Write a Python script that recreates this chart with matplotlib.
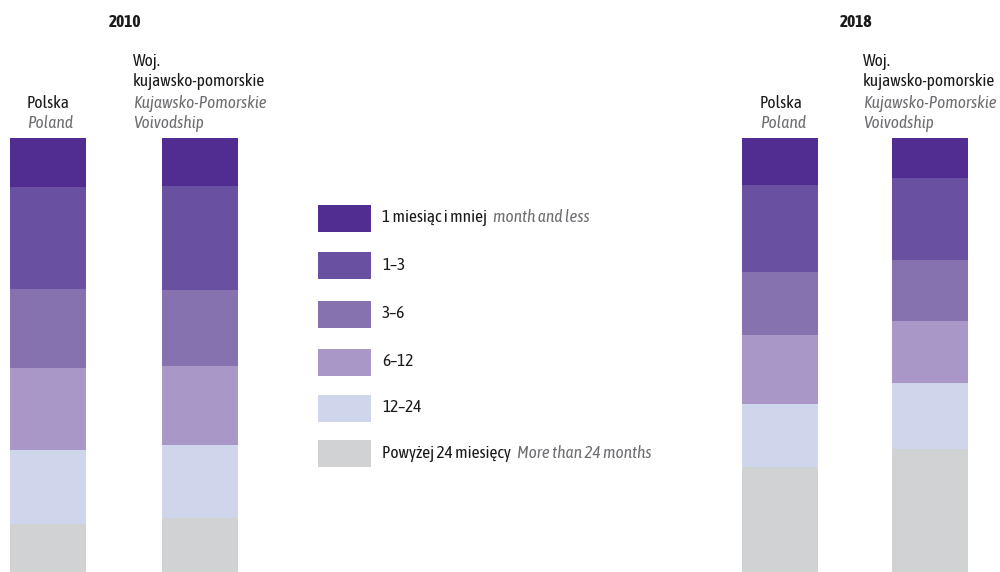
import matplotlib
matplotlib.use("Agg")
import matplotlib.pyplot as plt
from matplotlib.patches import Rectangle

plt.rcParams['font.family'] = ['Asap Condensed', 'DejaVu Sans']

categories_pl = ["1 miesiąc i mniej", "1–3", "3–6", "6–12", "12–24", "Powyżej 24 miesięcy"]
categories_en = ["month and less", "", "", "", "", "More than 24 months"]
colors = ["#512D91", "#6A50A0", "#8772B0", "#A897C7", "#CFD5EA", "#D1D2D4"]

polska_2010 = [11.3, 23.5, 18.2, 18.9, 17.1, 11.0]
kujpom_2010 = [11.1, 24.0, 17.5, 18.2, 16.8, 12.4]
polska_2018 = [10.8, 20.0, 14.7, 15.7, 14.5, 24.3]
kujpom_2018 = [9.2, 18.9, 14.1, 14.3, 15.2, 28.3]

series = [polska_2010, kujpom_2010, polska_2018, kujpom_2018]
bar_x = [48, 200, 780, 930]

W, H = 1000, 572
fig = plt.figure(figsize=(10, 5.72), dpi=100)
ax = fig.add_axes([0, 0, 1, 434 / H])
ax.set_xlim(0, W)
ax.set_ylim(0, 100)
ax.axis('off')

# stack from top: first category on top
for x, vals in zip(bar_x, series):
    top = 100.0
    for v, c in zip(vals, colors):
        ax.bar(x, -v, bottom=top, width=76, color=c, linewidth=0)
        top -= v

def fy(py):
    return 1 - py / H

def fx(px):
    return px / W

fs = 12.5
black = "#1a1a1a"
gray = "#6d6e71"

# years
fig.text(fx(125), fy(22), "2010", fontsize=fs, fontweight='bold', ha='center', va='center', color=black)
fig.text(fx(856), fy(22), "2018", fontsize=fs, fontweight='bold', ha='center', va='center', color=black)

def label_polska(x0):
    fig.text(fx(x0), fy(103), "Polska", fontsize=fs, ha='left', va='center', color=black)
    fig.text(fx(x0), fy(123), "Poland", fontsize=fs, style='italic', ha='left', va='center', color=gray)

def label_kp(x0):
    fig.text(fx(x0), fy(62), "Woj.", fontsize=fs, ha='left', va='center', color=black)
    fig.text(fx(x0), fy(82), "kujawsko-pomorskie", fontsize=fs, ha='left', va='center', color=black)
    fig.text(fx(x0), fy(103), "Kujawsko-Pomorskie", fontsize=fs, style='italic', ha='left', va='center', color=gray)
    fig.text(fx(x0), fy(123), "Voivodship", fontsize=fs, style='italic', ha='left', va='center', color=gray)

label_polska(27)
label_kp(133)
label_polska(760)
label_kp(863)

# legend
row_y = [218, 265, 314, 362, 408, 453]
renderer = fig.canvas.get_renderer()
for yc, c, pl, en in zip(row_y, colors, categories_pl, categories_en):
    fig.patches.append(Rectangle((fx(318), fy(yc + 13.5)), 53 / W, 27 / H,
                                 transform=fig.transFigure, facecolor=c, edgecolor='none'))
    t = fig.text(fx(382), fy(yc), pl, fontsize=fs, ha='left', va='center', color=black)
    if en:
        bb = t.get_window_extent(renderer=renderer)
        fig.text(bb.x1 / W + 6 / W, fy(yc), en, fontsize=fs, style='italic', ha='left', va='center', color=gray)

fig.savefig("out.png", dpi=100)
